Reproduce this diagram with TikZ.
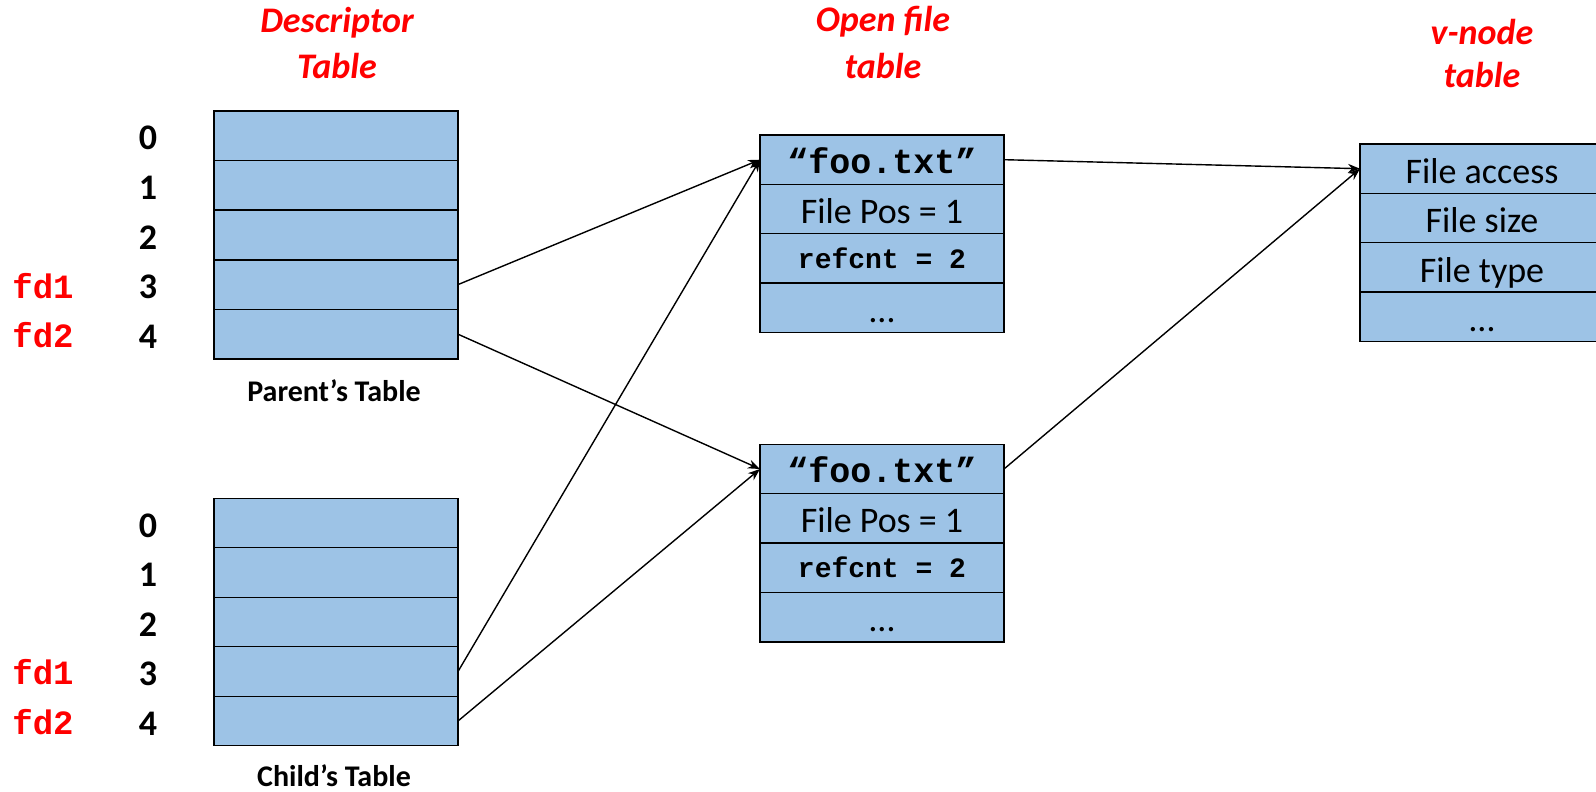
\documentclass[tikz,border=0pt]{standalone}
\usepackage{fontspec}
\setmainfont{Carlito}
\newfontfamily\monof{Liberation Mono}
\usetikzlibrary{arrows.meta}
\definecolor{cellblue}{RGB}{157,195,230}
\definecolor{titlered}{RGB}{255,0,0}
\begin{document}
\begin{tikzpicture}[x=1pt,y=-1pt,
  cell/.style={draw=black, line width=1.4pt, fill=cellblue, minimum width=244pt,
    minimum height=49.5pt, inner sep=0pt, outer sep=0pt,
    text height=36pt, text depth=7pt,
    font=\fontsize{36}{40}\selectfont},
  monocell/.style={cell, text height=34pt, text depth=7pt,
    font=\monof\bfseries\fontsize{35}{40}\selectfont},
  smallmono/.style={cell, text height=25pt, text depth=6pt,
    font=\monof\bfseries\fontsize{28}{32}\selectfont},
  title/.style={text=titlered, font=\bfseries\itshape\fontsize{36}{40}\selectfont, inner sep=0pt},
  idx/.style={font=\bfseries\fontsize{36}{40}\selectfont, inner sep=0pt,
    text height=35pt, text depth=7pt},
  fdlab/.style={text=titlered, font=\monof\bfseries\fontsize{34}{38}\selectfont, inner sep=0pt},
  caption/.style={font=\bfseries\fontsize{30}{34}\selectfont, inner sep=0pt},
  link/.style={line width=1.4pt, -{Stealth[length=12pt,width=9pt]}}
]
\useasboundingbox (0,0) rectangle (1596,792);

% titles
\node[title] (t1a) at (337,23) {Descriptor};
\node[title] (t1b) at (337,66) {Table};
\node[title] (t2a) at (883,22) {Open file};
\node[title] (t2b) at (883,66) {table};
\node[title] (t3a) at (1482,32) {v-node};
\node[title] (t3b) at (1482,75) {table};

% parent table
\foreach \i/\y in {0/135.8,1/185.4,2/235.0,3/284.6,4/334.2}{
  \node[cell] (p\i) at (336,\y) {};
  \node[idx] (pn\i) at (148,\y) {\i};
}
\node[fdlab] (pf1) at (43,285.6) {fd1};
\node[fdlab] (pf2) at (43,335.2) {fd2};
\node[caption] (pcap) at (334,391) {Parent’s Table};

% child table
\foreach \i/\y in {0/523.0,1/572.5,2/622.0,3/671.5,4/721.0}{
  \node[cell] (c\i) at (336,\y) {};
  \node[idx] (cn\i) at (148,\y) {\i};
}
\node[fdlab] (cf1) at (43,672.5) {fd1};
\node[fdlab] (cf2) at (43,722.0) {fd2};
\node[caption] (ccap) at (334,776) {Child’s Table};

% open file table 1
\node[monocell] (o0) at (882,159.7) {“foo.txt”};
\node[cell] (o1) at (882,209.1) {File Pos = 1};
\node[smallmono] (o2) at (882,258.5) {refcnt = 2};
\node[cell] (o3) at (882,307.9) {…};

% open file table 2
\node[monocell] (q0) at (882,469.0) {“foo.txt”};
\node[cell] (q1) at (882,518.4) {File Pos = 1};
\node[smallmono] (q2) at (882,567.8) {refcnt = 2};
\node[cell] (q3) at (882,617.2) {…};

% v-node table
\node[cell] (v0) at (1482,168.7) {File access};
\node[cell] (v1) at (1482,218.1) {File size};
\node[cell] (v2) at (1482,267.5) {File type};
\node[cell] (v3) at (1482,316.9) {…};

% connectors
\draw[link] (p3.east) -- (o0.west);
\draw[link] (p4.east) -- (q0.west);
\draw[link] (c3.east) -- (o0.west);
\draw[link] (c4.east) -- (q0.west);
\draw[link] (o0.east) -- (v0.west);
\draw[link] (q0.east) -- (v0.west);
\end{tikzpicture}
\end{document}
